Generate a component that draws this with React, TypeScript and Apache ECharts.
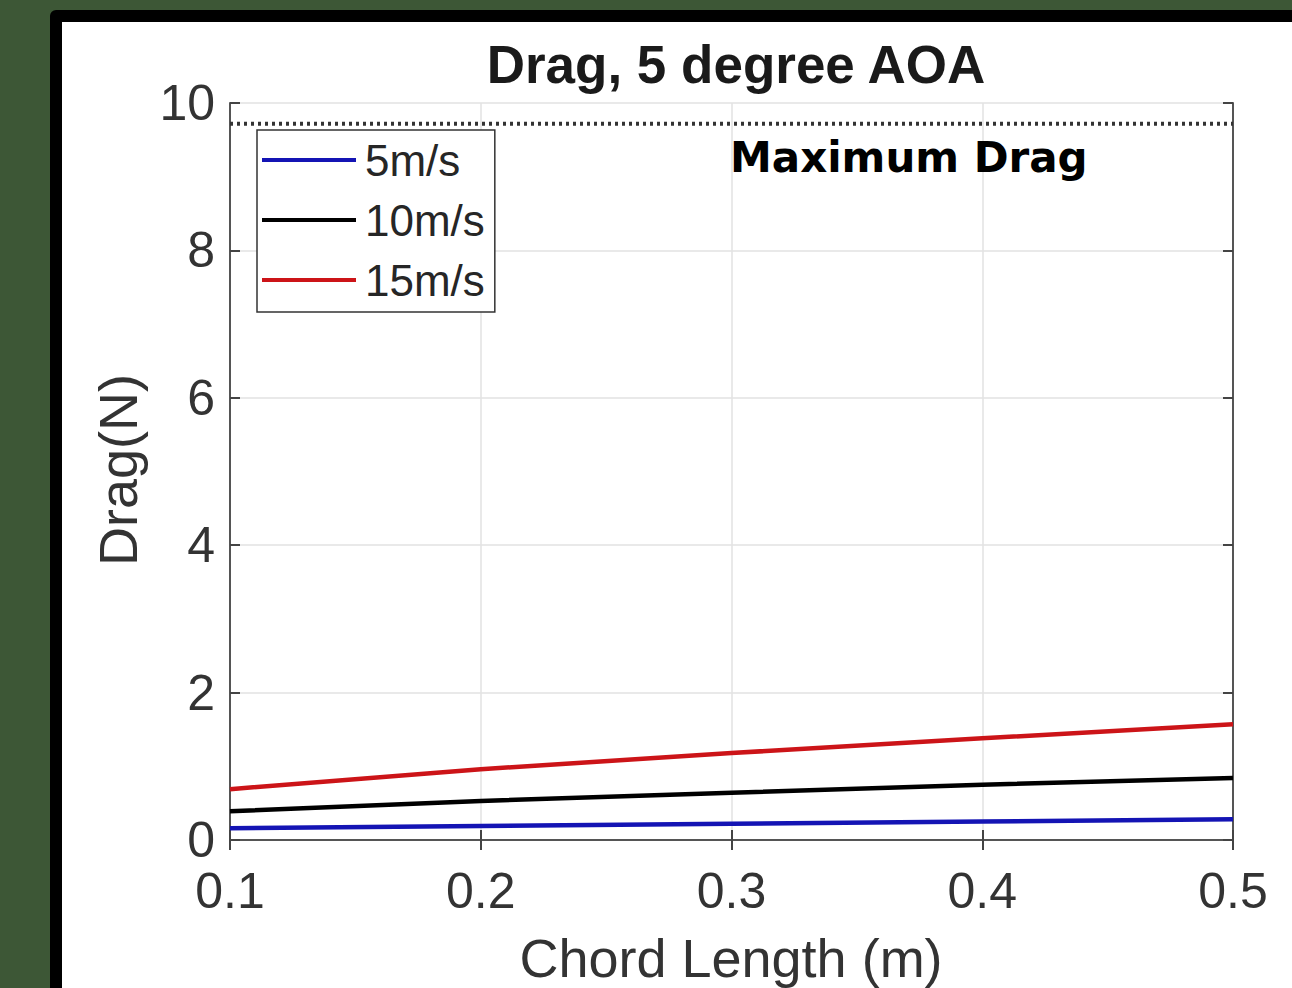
import React, { useEffect, useRef } from "react";
import * as echarts from "echarts";

const chordLength = [0.1, 0.2, 0.3, 0.4, 0.5];
const drag5 = [0.16, 0.19, 0.22, 0.25, 0.28];
const drag10 = [0.39, 0.53, 0.64, 0.75, 0.84];
const drag15 = [0.69, 0.96, 1.18, 1.38, 1.57];
const maxDrag = [9.72, 9.72];
const maxDragX = [0.1, 0.5];
const seriesNames = ["5m/s", "10m/s", "15m/s"];
const xTicks = ["0.1", "0.2", "0.3", "0.4", "0.5"];
const yTicks = ["0", "2", "4", "6", "8", "10"];

const FONT = "'Liberation Sans', Arial, sans-serif";

export default function App() {
  const ref = useRef<HTMLDivElement>(null);
  useEffect(() => {
    if (!ref.current) return;
    const chart = echarts.init(ref.current, undefined, { renderer: "svg" });
    const pair = (ys: number[]) => chordLength.map((x, i) => [x, ys[i]]);
    const axisLine = { show: true, lineStyle: { color: "#555", width: 2 } };
    const tick = { show: true, inside: true, length: 10, lineStyle: { color: "#444", width: 2 } };
    chart.setOption({
      animation: false,
      backgroundColor: "transparent",
      title: {
        text: "Drag, 5 degree AOA",
        left: 731,
        top: 33,
        textAlign: "center",
        textStyle: { fontFamily: FONT, fontSize: 53, fontWeight: "bold", color: "#1a1a1a" },
      },
      grid: { left: 230, top: 103, width: 1003, height: 737, containLabel: false },
      legend: {
        data: seriesNames.map((n) => ({ name: n, icon: "rect" })),
        orient: "vertical",
        left: 257,
        top: 130,
        itemWidth: 94,
        itemHeight: 4,
        itemGap: 16,
        padding: [8, 10, 10, 5],
        borderColor: "#333",
        borderWidth: 1.5,
        backgroundColor: "#fff",
        textStyle: { fontFamily: FONT, fontSize: 44, color: "#262626", padding: [0, 0, 0, 4] },
      },
      xAxis: [
        {
          type: "value",
          min: 0.1,
          max: 0.5,
          interval: 0.1,
          position: "bottom",
          axisLine,
          axisTick: tick,
          splitLine: { show: true, lineStyle: { color: "#e2e2e2", width: 1.5 } },
          axisLabel: {
            margin: 26,
            fontFamily: FONT,
            fontSize: 50,
            color: "#333",
            formatter: (v: number) => xTicks[Math.round((v - 0.1) * 10)] ?? "",
          },
        },
        {
          type: "value",
          min: 0.1,
          max: 0.5,
          interval: 0.1,
          position: "top",
          axisLine,
          axisTick: tick,
          splitLine: { show: false },
          axisLabel: { show: false },
        },
      ],
      yAxis: [
        {
          type: "value",
          min: 0,
          max: 10,
          interval: 2,
          position: "left",
          axisLine,
          axisTick: tick,
          splitLine: { show: true, lineStyle: { color: "#e2e2e2", width: 1.5 } },
          axisLabel: {
            margin: 15,
            fontFamily: FONT,
            fontSize: 50,
            color: "#333",
            formatter: (v: number) => yTicks[Math.round(v / 2)] ?? "",
          },
        },
        {
          type: "value",
          min: 0,
          max: 10,
          interval: 2,
          position: "right",
          axisLine,
          axisTick: tick,
          splitLine: { show: false },
          axisLabel: { show: false },
        },
      ],
      series: [
        {
          name: seriesNames[0],
          type: "line",
          data: pair(drag5),
          symbol: "none",
          lineStyle: { color: "#1414b4", width: 4.5 },
          itemStyle: { color: "#1414b4" },
          z: 5,
        },
        {
          name: seriesNames[1],
          type: "line",
          data: pair(drag10),
          symbol: "none",
          lineStyle: { color: "#000", width: 4.5 },
          itemStyle: { color: "#000" },
          z: 5,
        },
        {
          name: seriesNames[2],
          type: "line",
          data: pair(drag15),
          symbol: "none",
          lineStyle: { color: "#cc1418", width: 4.5 },
          itemStyle: { color: "#cc1418" },
          z: 5,
        },
        {
          name: "Maximum Drag",
          type: "line",
          data: maxDragX.map((x, i) => [x, maxDrag[i]]),
          symbol: "none",
          lineStyle: { color: "#333", width: 4, type: [3, 4] },
          z: 3,
        },
      ],
      graphic: [
        {
          type: "text",
          left: 730,
          top: 136,
          style: {
            text: "Maximum Drag",
            fontFamily: "'DejaVu Sans', sans-serif",
            fontWeight: "bold",
            fontSize: 42,
            fill: "#000",
          },
          z: 10,
        },
        {
          type: "text",
          x: 118,
          y: 470,
          rotation: Math.PI / 2,
          style: {
            text: "Drag(N)",
            fontFamily: FONT,
            fontSize: 54,
            fill: "#333",
            align: "center",
            verticalAlign: "middle",
          },
        },
        {
          type: "text",
          x: 731,
          y: 958,
          style: {
            text: "Chord Length (m)",
            fontFamily: FONT,
            fontSize: 54,
            fill: "#333",
            align: "center",
            verticalAlign: "middle",
          },
        },
      ],
    });
    return () => chart.dispose();
  }, []);

  return (
    <div style={{ position: "fixed", left: 0, top: 0, width: 1292, height: 988, background: "#3d5736", overflow: "hidden" }}>
      <div
        style={{
          position: "absolute",
          left: 50,
          top: 10,
          width: 1300,
          height: 1000,
          background: "#fff",
          border: "12px solid #000",
          borderRadius: 6,
          boxSizing: "border-box",
        }}
      />
      <div ref={ref} style={{ position: "absolute", left: 0, top: 0, width: 1292, height: 988 }} />
    </div>
  );
}
